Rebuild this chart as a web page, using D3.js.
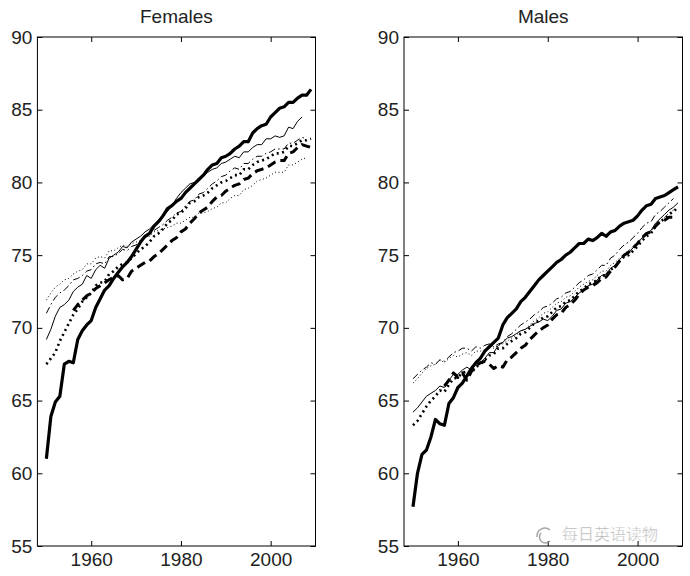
<!DOCTYPE html>
<html><head><meta charset="utf-8">
<script src="https://cdn.jsdelivr.net/npm/d3@7"></script>
<style>body{margin:0;background:#fff}svg{display:block}</style>
</head><body>
<svg id="c" width="690" height="576"></svg>
<script>
const years = d3.range(1950, 2010);
const xTicks = [1960, 1980, 2000];
const yTicks = [55, 60, 65, 70, 75, 80, 85, 90];
const panelTitles = ["Females", "Males"];

// Females
const femA = [61.0,63.9,64.9,65.3,67.5,67.7,67.6,69.2,69.8,70.2,70.5,71.4,72.0,72.6,72.9,73.4,73.8,74.2,74.5,74.9,75.4,75.9,76.3,76.5,77.0,77.3,77.7,78.2,78.4,78.7,78.9,79.3,79.6,79.9,80.2,80.5,80.9,81.2,81.3,81.7,81.8,82.0,82.3,82.5,82.8,82.8,83.4,83.7,83.9,84.0,84.5,84.8,85.1,85.2,85.5,85.5,85.8,86.0,86.0,86.4];
const femB = [null,null,null,null,null,null,71.2,71.6,71.9,72.2,72.4,72.7,72.9,73.1,73.3,73.5,73.6,73.3,73.4,73.9,74.1,74.3,74.5,74.6,74.9,75.1,75.4,75.7,76.0,76.2,76.6,76.8,77.2,77.5,77.9,78.1,78.3,78.7,79.0,79.1,79.4,79.6,79.8,79.9,80.2,80.3,80.6,80.8,80.9,81.0,81.2,81.4,81.5,81.5,82.0,82.1,82.4,82.6,82.5,82.4];
const femC = [67.5,67.9,68.3,69.1,69.7,70.3,70.9,71.3,71.8,72.1,72.4,72.9,73.1,73.2,73.7,73.9,74.2,74.4,74.5,74.8,75.1,75.4,75.6,75.9,76.3,76.5,76.8,77.2,77.4,77.8,77.9,78.2,78.6,78.7,79.0,79.1,79.3,79.6,79.8,80.0,80.1,80.3,80.5,80.5,80.9,80.9,81.2,81.4,81.5,81.6,81.8,82.0,82.0,82.1,82.5,82.5,82.7,82.9,82.9,83.0];
const femD = [69.2,69.9,70.8,71.4,71.6,71.9,72.5,72.8,73.0,73.6,73.4,74.0,74.3,74.1,74.8,75.0,75.2,75.6,75.5,75.9,76.1,76.3,76.6,76.8,77.1,77.4,77.8,78.0,78.4,78.9,79.3,79.6,79.9,80.0,80.3,80.4,80.7,80.9,81.0,81.3,81.4,81.6,81.8,81.7,82.1,82.1,82.4,82.6,82.6,83.0,83.0,83.2,83.1,83.2,83.8,83.7,84.2,84.5,null,null];
const femE = [71.0,71.6,72.1,72.4,72.6,72.9,73.3,73.4,73.6,73.9,74.0,74.4,74.5,74.4,74.9,74.9,75.1,75.4,75.3,75.6,75.7,76.0,76.2,76.4,76.7,76.9,77.1,77.4,77.6,77.9,78.0,78.4,78.7,78.8,79.2,79.3,79.6,79.9,80.1,80.4,80.5,80.8,81.0,80.9,81.3,81.3,81.6,81.8,81.8,82.0,82.1,82.3,82.3,82.3,82.7,82.7,82.9,83.1,83.0,null];
const femF = [71.9,72.4,72.8,73.0,73.3,73.4,73.7,73.9,74.0,74.4,74.4,74.8,74.9,74.8,75.3,75.3,75.5,75.7,75.6,75.8,75.9,76.0,76.2,76.3,76.6,76.7,76.8,76.9,77.0,77.2,77.2,77.4,77.6,77.6,77.9,77.9,78.0,78.2,78.3,78.6,78.6,78.9,79.1,79.1,79.5,79.6,79.8,80.1,80.2,80.3,80.5,80.7,80.7,80.7,81.2,81.2,81.4,81.6,81.7,null];

// Males
const malA = [57.7,60.0,61.3,61.6,62.5,63.7,63.4,63.3,64.8,65.2,65.9,66.2,66.7,67.2,67.6,67.9,68.4,68.7,69.0,69.3,70.2,70.7,71.0,71.3,71.8,72.1,72.5,72.9,73.3,73.6,73.9,74.2,74.5,74.7,75.0,75.2,75.5,75.8,75.8,76.1,76.0,76.2,76.5,76.3,76.6,76.7,77.0,77.2,77.3,77.4,77.7,78.1,78.4,78.5,78.9,79.0,79.1,79.3,79.5,79.7];
const malB = [null,null,null,null,null,null,null,66.0,66.4,66.9,66.6,66.9,66.4,67.0,67.4,67.6,67.7,67.5,67.2,67.4,67.3,67.8,68.0,68.3,68.6,68.8,69.2,69.5,69.8,70.0,70.2,70.6,70.9,71.0,71.4,71.6,71.9,72.3,72.6,72.8,72.9,73.1,73.4,73.5,73.9,74.2,74.6,75.0,75.2,75.5,75.8,76.2,76.5,76.6,77.0,77.3,77.4,77.6,77.6,null];
const malC = [63.3,63.6,64.1,64.6,65.0,65.3,65.7,65.6,66.1,66.5,66.6,66.9,67.0,66.9,67.3,67.5,67.8,68.1,68.2,68.6,68.6,68.9,69.1,69.3,69.6,69.7,70.0,70.3,70.5,70.7,70.8,71.1,71.4,71.5,71.8,71.9,72.2,72.5,72.7,73.0,73.1,73.3,73.6,73.6,74.0,74.2,74.6,74.9,75.0,75.3,75.6,76.0,76.3,76.5,77.0,77.3,77.5,77.8,78.0,78.3];
const malD = [64.2,64.5,64.9,65.3,65.5,65.7,66.0,65.9,66.4,66.8,66.8,67.1,67.3,67.1,67.5,67.6,67.9,68.3,68.3,68.8,69.0,69.3,69.4,69.6,69.8,69.9,70.1,70.3,70.4,70.6,70.5,70.8,71.2,71.3,71.7,71.8,72.1,72.4,72.6,72.9,73.0,73.3,73.6,73.7,74.1,74.3,74.7,75.0,75.2,75.5,75.8,76.2,76.5,76.7,77.2,77.5,77.8,78.1,78.3,78.6];
const malE = [66.5,66.8,67.1,67.3,67.6,67.5,67.8,67.7,68.0,68.3,68.4,68.6,68.6,68.4,68.7,68.6,68.8,68.9,68.7,68.9,69.0,69.4,69.6,69.9,70.2,70.4,70.6,70.9,71.1,71.4,71.5,71.7,72.0,72.1,72.4,72.5,72.8,73.1,73.3,73.6,73.7,74.0,74.3,74.3,74.8,75.0,75.4,75.7,75.9,76.2,76.5,76.9,77.2,77.3,77.8,78.0,78.3,78.6,78.9,null];
const malF = [66.2,66.5,66.9,67.2,67.4,67.5,67.8,67.6,67.9,68.1,68.0,68.2,68.3,68.1,68.4,68.4,68.5,68.7,68.6,68.8,68.9,69.1,69.3,69.5,69.8,69.9,70.2,70.5,70.7,71.0,71.1,71.4,71.7,71.8,72.1,72.2,72.5,72.8,73.0,73.2,73.3,73.6,73.9,73.9,74.3,74.5,74.8,75.1,75.3,75.6,75.9,76.2,76.5,76.6,77.1,77.3,77.6,77.9,78.1,null];

const femSeries = [femA, femB, femC, femD, femE, femF];
const malSeries = [malA, malB, malC, malD, malE, malF];

const lineStyles = [
  {w: 3.2, dash: null},
  {w: 3.0, dash: "9,5"},
  {w: 2.6, dash: "2,3.5"},
  {w: 1.0, dash: null},
  {w: 1.0, dash: "7,3,1.5,3"},
  {w: 1.0, dash: "1,2.5"}
];

const svg = d3.select("#c");
const FONT = "'Liberation Sans', Arial, sans-serif";
const yTop = 37, yBottom = 546;
const panels = [
  {left: 37.4, right: 315.5, series: femSeries, title: panelTitles[0]},
  {left: 404, right: 682.5, series: malSeries, title: panelTitles[1]}
];

panels.forEach((p, pi) => {
  const x = d3.scaleLinear().domain([1948, 2010]).range([p.left, p.right]);
  const y = d3.scaleLinear().domain([55, 90]).range([yBottom, yTop]);
  const g = svg.append("g");

  g.append("clipPath").attr("id", "clip" + pi).append("rect")
    .attr("x", p.left).attr("y", yTop).attr("width", p.right - p.left).attr("height", yBottom - yTop);

  const line = d3.line()
    .defined(d => d[1] != null)
    .x(d => x(d[0])).y(d => y(d[1]));

  const lg = g.append("g").attr("clip-path", `url(#clip${pi})`);
  p.series.forEach((vals, si) => {
    const st = lineStyles[si];
    lg.append("path")
      .datum(years.map((yr, i) => [yr, vals[i]]))
      .attr("d", line)
      .attr("fill", "none")
      .attr("stroke", "#000")
      .attr("stroke-width", st.w)
      .attr("stroke-linejoin", "round")
      .attr("stroke-dasharray", st.dash);
  });

  const styleAxis = sel => {
    sel.select(".domain").remove();
    sel.selectAll("line").attr("stroke", "#000");
    sel.selectAll("text").attr("font-family", FONT).attr("font-size", 19).attr("fill", "#222");
  };

  g.append("g").attr("transform", `translate(0,${yBottom})`)
    .call(d3.axisBottom(x).tickValues(xTicks).tickFormat(d3.format("d")).tickSize(-5).tickPadding(7))
    .call(styleAxis);
  g.append("g").attr("transform", `translate(0,${yTop})`)
    .call(d3.axisTop(x).tickValues(xTicks).tickFormat("").tickSize(-5))
    .call(styleAxis);
  g.append("g").attr("transform", `translate(${p.left},0)`)
    .call(d3.axisLeft(y).tickValues(yTicks).tickSize(-5).tickPadding(5))
    .call(styleAxis);
  g.append("g").attr("transform", `translate(${p.right},0)`)
    .call(d3.axisRight(y).tickValues(yTicks).tickFormat("").tickSize(-5))
    .call(styleAxis);

  g.append("rect")
    .attr("x", p.left).attr("y", yTop)
    .attr("width", p.right - p.left).attr("height", yBottom - yTop)
    .attr("fill", "none").attr("stroke", "#000").attr("stroke-width", 1);

  g.append("text")
    .attr("x", (p.left + p.right) / 2).attr("y", 23)
    .attr("text-anchor", "middle")
    .attr("font-family", FONT).attr("font-size", 19).attr("fill", "#222")
    .text(p.title);
});

// watermark
const wm = svg.append("g").attr("opacity", 0.75);
wm.append("path")
  .attr("d", "M541,533 a6,6 0 1,0 9,8 M537,537 a8,8 0 0,1 13,-7")
  .attr("fill", "none").attr("stroke", "#888").attr("stroke-width", 1.5);
wm.append("text")
  .attr("x", 562).attr("y", 540)
  .attr("font-family", "'Noto Sans CJK SC', sans-serif")
  .attr("font-size", 16).attr("fill", "#999")
  .attr("stroke", "#fff").attr("stroke-width", 0.4)
  .text("每日英语读物");
</script>
</body></html>
